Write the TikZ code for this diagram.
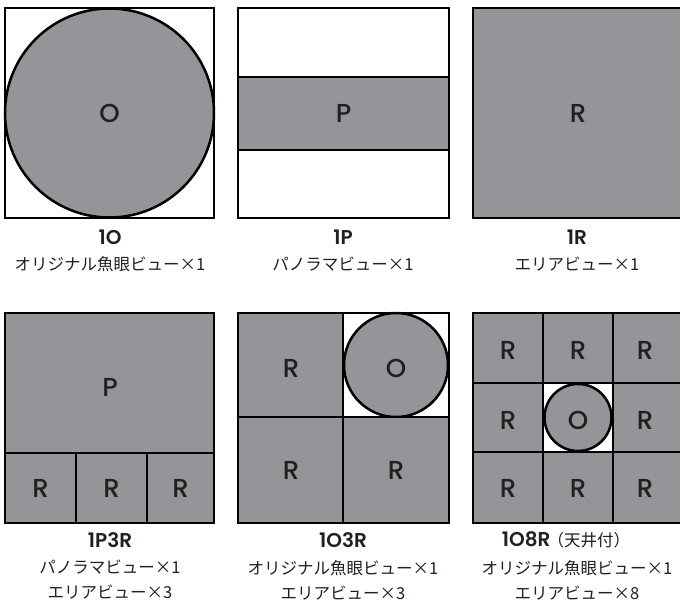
\documentclass[tikz,border=0pt]{standalone}
\usepackage{fontspec}
\setmainfont{Poppins Medium}[BoldFont={Poppins SemiBold}]
\newfontfamily\jpfont{Noto Sans CJK JP}
\definecolor{cinza}{HTML}{939598}
\definecolor{tinta}{HTML}{231F20}
\tikzset{
  vista/.style={fill=cinza,draw=black,line width=2.5pt},
  moldura/.style={fill=white,draw=black,line width=2.5pt},
  letra/.style={font=\fontsize{26}{26}\selectfont,text=tinta},
  titulo/.style={font=\bfseries\fontsize{20}{20}\selectfont,text=tinta},
  legenda/.style={font=\jpfont\fontsize{16.5}{25}\selectfont,text=tinta,align=center}
}
\begin{document}
\begin{tikzpicture}[x=1pt,y=-1pt]
\useasboundingbox (0,0) rectangle (680,602);
%1O
  \draw[moldura] (5,8) rectangle (214,218);
  \draw[vista] (109.5,113) circle (104.5);
  \node[letra] (oA) at (109.5,113) {O};
%1P
  \draw[moldura] (238,8) rectangle (449,218);
  \draw[vista] (238,77) rectangle (449,150);
  \node[letra] (pA) at (343.5,113.5) {P};
%1R
  \draw[vista] (473,8) rectangle (683,218);
  \node[letra] (rA) at (578,113) {R};

%1P3R
  \draw[vista] (5,313) rectangle (214,453);
  \draw[vista] (5,453) rectangle (76,523);
  \draw[vista] (76,453) rectangle (147,523);
  \draw[vista] (147,453) rectangle (214,523);
  \node[letra] (pB) at (110,387) {P};
  \node[letra] (rB1) at (40.5,488) {R};
  \node[letra] (rB2) at (111.5,488) {R};
  \node[letra] (rB3) at (180.5,488) {R};
%1O3R
  \draw[vista] (238,313) rectangle (343,417);
  \draw[moldura] (343,313) rectangle (449,417);
  \draw[vista] (396,365) circle (52);
  \draw[vista] (238,417) rectangle (343,523);
  \draw[vista] (343,417) rectangle (449,523);
  \node[letra] (rC1) at (291,368) {R};
  \node[letra] (oC) at (396,368) {O};
  \node[letra] (rC2) at (291,470) {R};
  \node[letra] (rC3) at (396,470) {R};
%1O8R
  \draw[vista] (473,313) rectangle (543,383);
  \draw[vista] (543,313) rectangle (613,383);
  \draw[vista] (613,313) rectangle (683,383);
  \draw[vista] (473,383) rectangle (543,452);
  \draw[moldura] (543,383) rectangle (613,452);
  \draw[vista] (578,417.5) circle (33.5);
  \draw[vista] (613,383) rectangle (683,452);
  \draw[vista] (473,452) rectangle (543,523);
  \draw[vista] (543,452) rectangle (613,523);
  \draw[vista] (613,452) rectangle (683,523);
  \node[letra] (rD1) at (508,350) {R};
  \node[letra] (rD2) at (578,350) {R};
  \node[letra] (rD3) at (645,350) {R};
  \node[letra] (rD4) at (508,420) {R};
  \node[letra] (oD) at (578,420) {O};
  \node[letra] (rD5) at (645,420) {R};
  \node[letra] (rD6) at (508,488) {R};
  \node[letra] (rD7) at (578,488) {R};
  \node[letra] (rD8) at (645,488) {R};

%rotulos
  \node[titulo] (t1) at (110,237) {1O};
  \node[titulo] (t2) at (343,237) {1P};
  \node[titulo] (t3) at (577,237) {1R};
  \node[legenda] (l1) at (110,264) {オリジナル魚眼ビュー×1};
  \node[legenda] (l2) at (343,264) {パノラマビュー×1};
  \node[legenda] (l3) at (577,264) {エリアビュー×1};
  \node[titulo] (t4) at (110,540) {1P3R};
  \node[titulo] (t5) at (343,540) {1O3R};
  \node[titulo] (t6) at (566,540) {1O8R{\jpfont\mdseries\fontsize{16.5}{16}\selectfont\hspace{-3pt}（天井付）}};
  \node[legenda] (l4) at (110,580) {パノラマビュー×1\\エリアビュー×3};
  \node[legenda] (l5) at (343,580) {オリジナル魚眼ビュー×1\\エリアビュー×3};
  \node[legenda] (l6) at (577,580) {オリジナル魚眼ビュー×1\\エリアビュー×8};
\end{tikzpicture}
\end{document}
